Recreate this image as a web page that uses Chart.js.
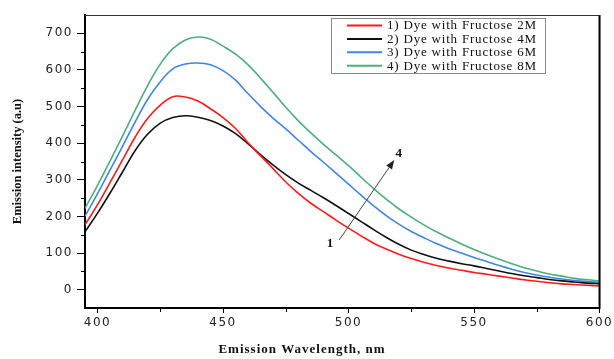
<!DOCTYPE html>
<html>
<head>
<meta charset="utf-8">
<script src="https://cdn.jsdelivr.net/npm/chart.js@4.4.1/dist/chart.umd.min.js"></script>
<style>
  html, body { margin: 0; padding: 0; background: #ffffff; }
  #wrap { width: 614px; height: 359px; }
</style>
</head>
<body>
<div id="wrap"><canvas id="c" width="614" height="359"></canvas></div>
<script>
// ---- data ----
const wavelengths = [395,400,405,410,415,420,425,430,435,440,445,450,455,460,465,470,475,480,485,490,495,500,505,510,515,520,525,530,535,540,545,550,555,560,565,570,575,580,585,590,595,600];
const dye2M = [177,232,293,355,417,468,504,527,526,515,494,470,440,401,365,330,294,263,236,213,190,168,147,127,111,97,85,75,66,59,53,47,42,37,32,27,23,19,16,14,12,10];
const dye4M = [158,209,264,322,380,425,455,470,475,471,462,447,426,398,368,340,314,291,271,251,230,208,186,164,143,124,108,96,86,78,71,65,58,51,44,38,33,28,24,21,18,16];
const dye6M = [201,262,327,392,458,520,568,603,616,619,614,598,572,535,500,468,439,408,377,348,318,288,258,229,202,179,159,142,126,112,100,88,77,66,56,47,40,34,29,25,22,20];
const dye8M = [222,285,352,420,490,558,616,658,682,690,684,665,643,614,577,538,498,461,428,397,368,339,307,276,247,221,198,177,158,141,125,110,96,83,71,60,51,43,37,31,27,24];
const seriesLabels = ['1) Dye with Fructose 2M','2) Dye with Fructose 4M','3) Dye with Fructose 6M','4) Dye with Fructose 8M'];
const xTickValues = [400,450,500,550,600];
const xMinorTickValues = [425,475,525,575];
const yTickValues = [0,100,200,300,400,500,600,700];
const yMinorTickValues = [50,150,250,350,450,550,650];
const xTitle = 'Emission Wavelength, nm';
const yTitle = 'Emission intensity (a.u)';
// arrow annotation (data coordinates): from curve 1 towards curve 4
const arrowFrom = [496.3, 136];
const arrowTo = [518.2, 354];
const arrowLabelStart = { text: '1', x: 492.6, y: 127 };
const arrowLabelEnd = { text: '4', x: 520.0, y: 372 };

const colors = ['#ff1a1a', '#111111', '#3f86e6', '#4caf7d'];
const seriesValues = [dye2M, dye4M, dye6M, dye8M];

const datasets = seriesValues.map((vals, i) => ({
  label: seriesLabels[i],
  data: wavelengths.map((w, j) => ({ x: w, y: vals[j] })),
  borderColor: colors[i],
  backgroundColor: colors[i],
  borderWidth: 1.6,
  pointRadius: 0,
  tension: 0.4,
  fill: false
}));

const decorPlugin = {
  id: 'decor',
  beforeDraw(chart) {
    chart.ctx.letterSpacing = '1.5px';
  },
  afterDraw(chart) {
    const ctx = chart.ctx;
    const { left, right, top, bottom } = chart.chartArea;
    const xs = chart.scales.x, ys = chart.scales.y;
    ctx.save();
    ctx.letterSpacing = '0px';
    // frame top and right
    ctx.strokeStyle = '#000';
    ctx.lineWidth = 2;
    ctx.beginPath();
    ctx.moveTo(right, bottom + 1);
    ctx.lineTo(right, top);
    ctx.stroke();
    ctx.lineWidth = 1.2;
    ctx.strokeStyle = '#333';
    ctx.beginPath();
    ctx.moveTo(left, top + 0.5);
    ctx.lineTo(right, top + 0.5);
    ctx.stroke();
    // minor ticks
    ctx.strokeStyle = '#000';
    ctx.lineWidth = 1;
    ctx.beginPath();
    yMinorTickValues.forEach(v => {
      const py = Math.round(ys.getPixelForValue(v)) + 0.5;
      ctx.moveTo(left - 4, py); ctx.lineTo(left, py);
    });
    xMinorTickValues.forEach(v => {
      const px = Math.round(xs.getPixelForValue(v)) + 0.5;
      ctx.moveTo(px, bottom); ctx.lineTo(px, bottom + 4);
    });
    ctx.stroke();

    // legend
    const bx = 331.5, by = 18.5, bw = 214, bh = 55;
    ctx.strokeStyle = '#8a8a8a';
    ctx.lineWidth = 1;
    ctx.strokeRect(bx, by, bw, bh);
    ctx.font = '13px "Liberation Serif", "Times New Roman", serif';
    ctx.textBaseline = 'middle';
    ctx.textAlign = 'left';
    ctx.fillStyle = '#111';
    chart.data.datasets.forEach((ds, i) => {
      const cy = 25.5 + i * 13.4;
      ctx.strokeStyle = ds.borderColor;
      ctx.lineWidth = 2;
      ctx.beginPath();
      ctx.moveTo(347, cy); ctx.lineTo(382, cy);
      ctx.stroke();
      ctx.letterSpacing = '0.8px';
      ctx.fillText(ds.label, 387, cy + 0.5);
    });

    // arrow
    const x1 = xs.getPixelForValue(arrowFrom[0]), y1 = ys.getPixelForValue(arrowFrom[1]);
    const x2 = xs.getPixelForValue(arrowTo[0]), y2 = ys.getPixelForValue(arrowTo[1]);
    const ang = Math.atan2(y2 - y1, x2 - x1);
    const hl = 9, hw = 3.5;
    ctx.strokeStyle = '#444';
    ctx.fillStyle = '#222';
    ctx.lineWidth = 1;
    ctx.beginPath();
    ctx.moveTo(x1, y1);
    ctx.lineTo(x2 - hl * Math.cos(ang), y2 - hl * Math.sin(ang));
    ctx.stroke();
    ctx.beginPath();
    ctx.moveTo(x2, y2);
    ctx.lineTo(x2 - hl * Math.cos(ang) + hw * Math.sin(ang), y2 - hl * Math.sin(ang) - hw * Math.cos(ang));
    ctx.lineTo(x2 - hl * Math.cos(ang) - hw * Math.sin(ang), y2 - hl * Math.sin(ang) + hw * Math.cos(ang));
    ctx.closePath();
    ctx.fill();
    ctx.letterSpacing = '0px';
    ctx.font = 'bold 13px "Liberation Serif", "Times New Roman", serif';
    ctx.textAlign = 'center';
    ctx.textBaseline = 'middle';
    ctx.fillStyle = '#111';
    [arrowLabelStart, arrowLabelEnd].forEach(l => {
      ctx.fillText(l.text, xs.getPixelForValue(l.x), ys.getPixelForValue(l.y));
    });

    // axis titles
    ctx.font = 'bold 13px "Liberation Serif", "Times New Roman", serif';
    ctx.letterSpacing = '1px';
    ctx.fillText(xTitle, 302, 350);
    ctx.save();
    ctx.translate(18, (top + bottom) / 2);
    ctx.rotate(-Math.PI / 2);
    ctx.letterSpacing = '0px';
    ctx.font = 'bold 12.5px "Liberation Serif", "Times New Roman", serif';
    ctx.fillText(yTitle, 0, 0);
    ctx.restore();
    ctx.restore();
  }
};

new Chart(document.getElementById('c'), {
  type: 'line',
  data: { datasets },
  plugins: [decorPlugin],
  options: {
    responsive: false,
    animation: false,
    devicePixelRatio: 1,
    layout: { padding: { top: 15, right: 13, left: 0, bottom: 0 } },
    plugins: { legend: { display: false }, tooltip: { enabled: false } },
    scales: {
      x: {
        type: 'linear',
        min: 395, max: 600,
        afterBuildTicks: s => { s.ticks = xTickValues.map(v => ({ value: v })); },
        afterFit: s => { s.height = 51; },
        ticks: {
          font: { family: '"DejaVu Sans", sans-serif', size: 12 },
          color: '#222', padding: 3, maxRotation: 0, autoSkip: false
        },
        grid: { drawOnChartArea: false, tickLength: 5, tickColor: '#000', tickWidth: 1 },
        border: { color: '#000', width: 2 }
      },
      y: {
        min: -50, max: 750,
        afterBuildTicks: s => { s.ticks = yTickValues.map(v => ({ value: v })); },
        afterFit: s => { s.width = 85; },
        ticks: {
          font: { family: '"DejaVu Sans", sans-serif', size: 12 },
          color: '#222', padding: 4
        },
        grid: { drawOnChartArea: false, tickLength: 8, tickColor: '#000', tickWidth: 1 },
        border: { color: '#000', width: 2 }
      }
    }
  }
});
</script>
</body>
</html>
